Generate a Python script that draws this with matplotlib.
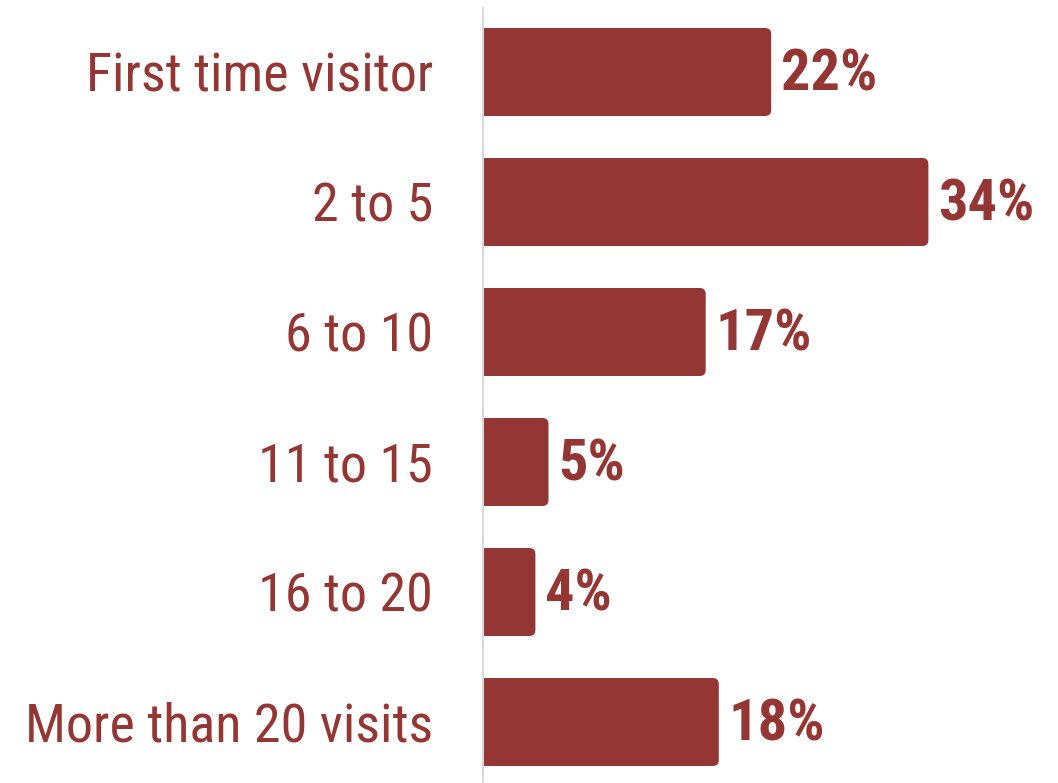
import matplotlib
matplotlib.use("Agg")
import matplotlib.pyplot as plt
from matplotlib.patches import FancyBboxPatch

categories = ["First time visitor", "2 to 5", "6 to 10", "11 to 15", "16 to 20", "More than 20 visits"]
shares = [22, 34, 17, 5, 4, 18]

bar_color = "#943634"
plt.rcParams["font.family"] = ["Roboto Condensed", "DejaVu Sans"]

W, H = 1058, 783
fig = plt.figure(figsize=(W / 100, H / 100), dpi=100)
ax = fig.add_axes([483 / W, 0, 575 / W, 775 / H])

# 130 px between bar centres, about 13 px per percentage point
px_per_pct = 13.1
ax.set_xlim(0, 575 / px_per_pct)
ax.set_ylim(5 + (783 - 722) / 130, -(72 - 8) / 130)

ypos = list(range(len(categories)))
bars = ax.barh(ypos, shares, height=0.677, color=bar_color, linewidth=0)

# swap plain rectangles for ones with rounded right corners
x_per_px = 1 / px_per_pct
y_per_px = 1 / 130
radius = 6 * x_per_px
for b in bars:
    x0, y0 = b.get_x(), b.get_y()
    w, h = b.get_width(), b.get_height()
    b.set_visible(False)
    rnd = FancyBboxPatch((x0, y0), w, h,
                         boxstyle=f"round,pad=0,rounding_size={radius}",
                         mutation_aspect=y_per_px / x_per_px,
                         facecolor=bar_color, edgecolor="none")
    ax.add_patch(rnd)
    # square off the left side
    ax.add_patch(plt.Rectangle((x0, y0), w / 2, h,
                               facecolor=bar_color, edgecolor="none"))

for y, v in zip(ypos, shares):
    ax.annotate(f"{v}%", xy=(v, y), xytext=(7, -2), textcoords="offset points",
                ha="left", va="center", fontsize=42, fontweight="bold",
                color=bar_color)

ax.set_yticks(ypos)
ax.set_yticklabels(categories, fontsize=39, color=bar_color)
ax.tick_params(axis="y", length=0, pad=36)
ax.set_xticks([])

for side in ["top", "right", "bottom"]:
    ax.spines[side].set_visible(False)
ax.spines["left"].set_color("#d9d9d9")
ax.spines["left"].set_linewidth(1.5)

fig.savefig("out.png", dpi=100)
